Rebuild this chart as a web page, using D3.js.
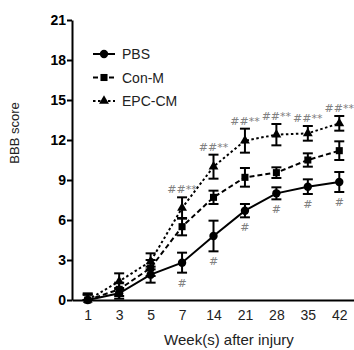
<!DOCTYPE html>
<html><head><meta charset="utf-8">
<script src="https://cdn.jsdelivr.net/npm/d3@7"></script>
<style>body{margin:0;background:#fff}</style>
</head><body>
<svg id="c" width="354" height="350"></svg>
<script>
const weeks = ["1","3","5","7","14","21","28","35","42"];
const pbsMean = [0, 0.5, 1.9, 2.8, 4.8, 6.7, 8.0, 8.5, 8.85];
const pbsErr  = [0.4, 0.4, 0.6, 0.75, 1.15, 0.5, 0.45, 0.55, 0.75];
const conMean = [0, 0.8, 2.4, 5.5, 7.7, 9.2, 9.55, 10.5, 11.2];
const conErr  = [0.4, 0.5, 0.6, 0.65, 0.5, 0.7, 0.4, 0.5, 0.7];
const epcMean = [0, 1.4, 2.9, 6.9, 10.0, 11.95, 12.4, 12.5, 13.25];
const epcErr  = [0.5, 0.6, 0.6, 0.8, 0.9, 0.9, 0.8, 0.55, 0.55];
const pbsMarks = ["", "", "", "#", "#", "#", "#", "#", "#"];
const epcMarks = ["", "", "", "##**", "##**", "##**", "##**", "##**", "##**"];
const yTicks = [0, 3, 6, 9, 12, 15, 18, 21];
const seriesNames = ["PBS", "Con-M", "EPC-CM"];

const FONT = "Liberation Sans, Arial, sans-serif";
const MARKFONT = "DejaVu Sans, sans-serif";
const svg = d3.select("#c");
const x = d3.scalePoint().domain(weeks).range([72, 355]).padding(0.5);
const y = d3.scaleLinear().domain([0, 21]).range([300, 20]);

// axes
const yAx = svg.append("g").attr("transform","translate(72,0)")
  .call(d3.axisLeft(y).tickValues(yTicks).tickSize(5).tickSizeOuter(0));
yAx.select(".domain").attr("stroke","#000").attr("stroke-width",2);
yAx.selectAll(".tick line").attr("stroke-width",2);
yAx.selectAll(".tick text").attr("font-family",FONT)
  .attr("font-size",14).attr("font-weight","bold").attr("fill","#000").attr("x",-6);

const xAx = svg.append("g").attr("transform","translate(0,300)")
  .call(d3.axisBottom(x).tickSize(0).tickSizeOuter(0).tickPadding(10));
xAx.select(".domain").attr("stroke","#000").attr("stroke-width",2);
xAx.selectAll(".tick text").attr("font-family",FONT)
  .attr("font-size",14).attr("fill","#222");

svg.append("text").attr("transform","translate(19,133) rotate(-90)")
  .attr("text-anchor","middle").attr("font-family",FONT)
  .attr("font-size",13).attr("fill","#222").text("BBB score");
svg.append("text").attr("x",229).attr("y",345)
  .attr("text-anchor","middle").attr("font-family",FONT)
  .attr("font-size",15).attr("fill","#222").text("Week(s) after injury");

const series = [
  {name: seriesNames[0], mean: pbsMean, err: pbsErr, dash: null, marker: "circle"},
  {name: seriesNames[1], mean: conMean, err: conErr, dash: "5,3", marker: "square"},
  {name: seriesNames[2], mean: epcMean, err: epcErr, dash: "2.5,2.5", marker: "triangle"}
];
const sym = {circle: d3.symbolCircle, square: d3.symbolSquare, triangle: d3.symbolTriangle};
const symSize = {circle: 55, square: 50, triangle: 42};

const line = d3.line().x((d,i)=>x(weeks[i])).y(d=>y(d));

series.forEach(s => {
  const g = svg.append("g");
  s.mean.forEach((m,i) => {
    const cx = x(weeks[i]);
    const top = y(m + s.err[i]), bot = y(Math.max(0, m - s.err[i]));
    g.append("line").attr("x1",cx).attr("x2",cx).attr("y1",top).attr("y2",bot).attr("stroke","#000").attr("stroke-width",2);
    g.append("line").attr("x1",cx-5).attr("x2",cx+5).attr("y1",top).attr("y2",top).attr("stroke","#000").attr("stroke-width",2);
    g.append("line").attr("x1",cx-5).attr("x2",cx+5).attr("y1",bot).attr("y2",bot).attr("stroke","#000").attr("stroke-width",2);
  });
  g.append("path").datum(s.mean).attr("d",line).attr("fill","none")
    .attr("stroke","#000").attr("stroke-width",2).attr("stroke-dasharray",s.dash);
  g.selectAll(".m").data(s.mean).join("path")
    .attr("transform",(d,i)=>`translate(${x(weeks[i])},${y(d)})`)
    .attr("d",d3.symbol().type(sym[s.marker]).size(symSize[s.marker])).attr("fill","#000");
});

// significance marks
svg.append("g").selectAll("text").data(pbsMarks).join("text")
  .attr("x",(d,i)=>x(weeks[i])).attr("y",(d,i)=>y(Math.max(0,pbsMean[i]-pbsErr[i]))+14)
  .attr("text-anchor","middle").attr("font-family",MARKFONT).attr("font-size",11)
  .attr("fill","#808080").text(d=>d);
svg.append("g").selectAll("text").data(epcMarks).join("text")
  .attr("x",(d,i)=>x(weeks[i])).attr("y",(d,i)=>y(epcMean[i]+epcErr[i])-4)
  .attr("text-anchor","middle").attr("font-family",MARKFONT).attr("font-size",11)
  .attr("fill","#808080").text(d=>d);

// legend
const leg = svg.append("g");
series.forEach((s,i) => {
  const ly = 54 + i*23.5;
  leg.append("line").attr("x1",93).attr("x2",115).attr("y1",ly).attr("y2",ly)
    .attr("stroke","#000").attr("stroke-width",2).attr("stroke-dasharray",s.dash);
  leg.append("path").attr("transform",`translate(104,${ly})`)
    .attr("d",d3.symbol().type(sym[s.marker]).size(symSize[s.marker])).attr("fill","#000");
  leg.append("text").attr("x",122).attr("y",ly+5).attr("font-family",FONT)
    .attr("font-size",14).attr("fill","#222").text(s.name);
});
</script>
</body></html>
